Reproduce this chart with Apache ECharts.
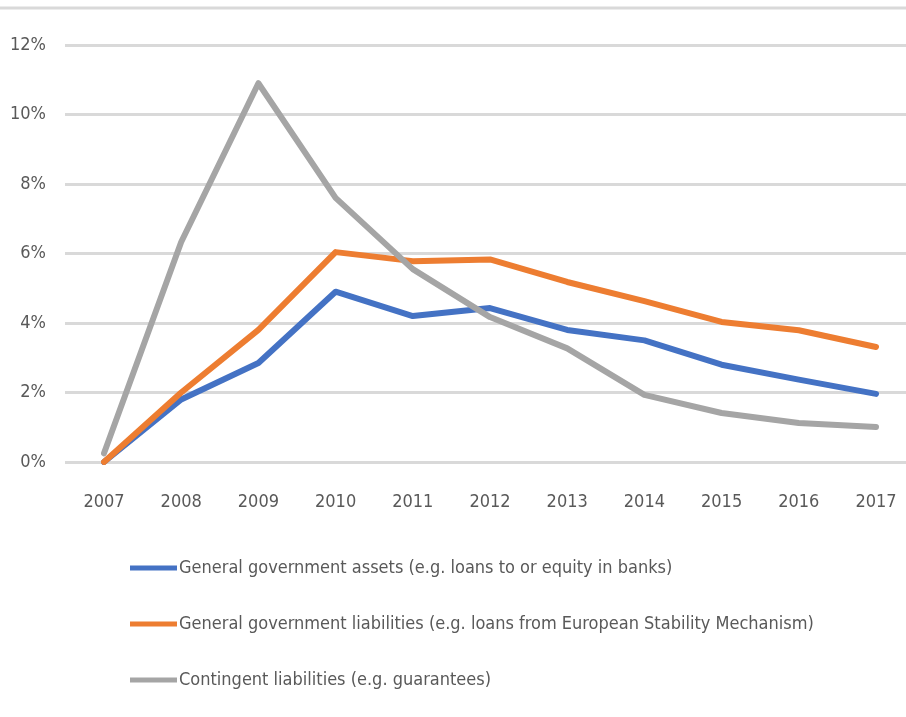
<!DOCTYPE html>
<html>
<head>
<meta charset="utf-8">
<script src="https://cdn.jsdelivr.net/npm/echarts@6/dist/echarts.min.js"></script>
<style>
  html, body { margin: 0; padding: 0; background: #fff; }
  #chart { width: 906px; height: 717px; }
</style>
</head>
<body>
<div id="chart"></div>
<script>
// Years on the horizontal axis
const years = ['2007', '2008', '2009', '2010', '2011', '2012', '2013', '2014', '2015', '2016', '2017'];

// Series values, percent of GDP
const assets = [0, 1.8, 2.85, 4.9, 4.2, 4.43, 3.8, 3.5, 2.8, 2.37, 1.96];
const liabilities = [0, 2.0, 3.8, 6.04, 5.78, 5.83, 5.18, 4.63, 4.03, 3.79, 3.31];
const contingent = [0.25, 6.33, 10.9, 7.6, 5.55, 4.17, 3.27, 1.93, 1.41, 1.12, 1.01];

const seriesNames = [
  'General government assets (e.g. loans to or equity in banks)',
  'General government liabilities (e.g. loans from European Stability Mechanism)',
  'Contingent liabilities (e.g. guarantees)'
];

const textFont = '"DejaVu Sans Condensed", "Liberation Sans Narrow", "Liberation Sans", sans-serif';
const textColor = '#595959';
const yMin = 0, yMax = 12, yStep = 2;

const chart = echarts.init(document.getElementById('chart'), null, { renderer: 'canvas' });

function lineSeries(name, data, color) {
  return {
    name: name,
    type: 'line',
    data: data,
    xAxisIndex: 1,
    yAxisIndex: 1,
    symbol: 'none',
    lineStyle: { width: 6, color: color, cap: 'round', join: 'round' },
    itemStyle: { color: color },
    emphasis: { disabled: true }
  };
}

chart.setOption({
  animation: false,
  backgroundColor: '#ffffff',
  // grid 0 carries the percentage scale and the full-width gridlines,
  // grid 1 carries the year axis and the plotted lines
  grid: [
    { left: 65, right: 0, top: 45, height: 417 },
    { left: 104, right: 30, top: 45, height: 417 }
  ],
  graphic: [{
    type: 'line',
    shape: { x1: 0, y1: 8, x2: 906, y2: 8 },
    style: { stroke: '#d9d9d9', lineWidth: 3 }
  }],
  xAxis: [
    { type: 'value', gridIndex: 0, show: false },
    {
      type: 'category',
      gridIndex: 1,
      data: years,
      boundaryGap: false,
      axisLine: { show: false },
      axisTick: { show: false },
      splitLine: { show: false },
      axisLabel: { color: textColor, fontFamily: textFont, fontSize: 18, margin: 31 }
    }
  ],
  yAxis: [
    {
      type: 'value',
      gridIndex: 0,
      min: yMin,
      max: yMax,
      interval: yStep,
      axisLine: { show: false },
      axisTick: { show: false },
      axisLabel: {
        color: textColor, fontFamily: textFont, fontSize: 18, margin: 19,
        formatter: v => v + '%'
      },
      splitLine: { lineStyle: { color: '#d9d9d9', width: 3 } }
    },
    {
      type: 'value',
      gridIndex: 1,
      min: yMin,
      max: yMax,
      interval: yStep,
      show: false,
      splitLine: { show: false }
    }
  ],
  legend: {
    orient: 'vertical',
    left: 125,
    top: 554,
    itemWidth: 47,
    itemHeight: 5,
    itemGap: 38,
    icon: 'rect',
    data: seriesNames,
    textStyle: { color: textColor, fontFamily: textFont, fontSize: 18, padding: [0, 0, 0, -3] }
  },
  series: [
    lineSeries(seriesNames[0], assets, '#4472C4'),
    lineSeries(seriesNames[1], liabilities, '#ED7D31'),
    lineSeries(seriesNames[2], contingent, '#A5A5A5')
  ]
});
</script>
</body>
</html>
